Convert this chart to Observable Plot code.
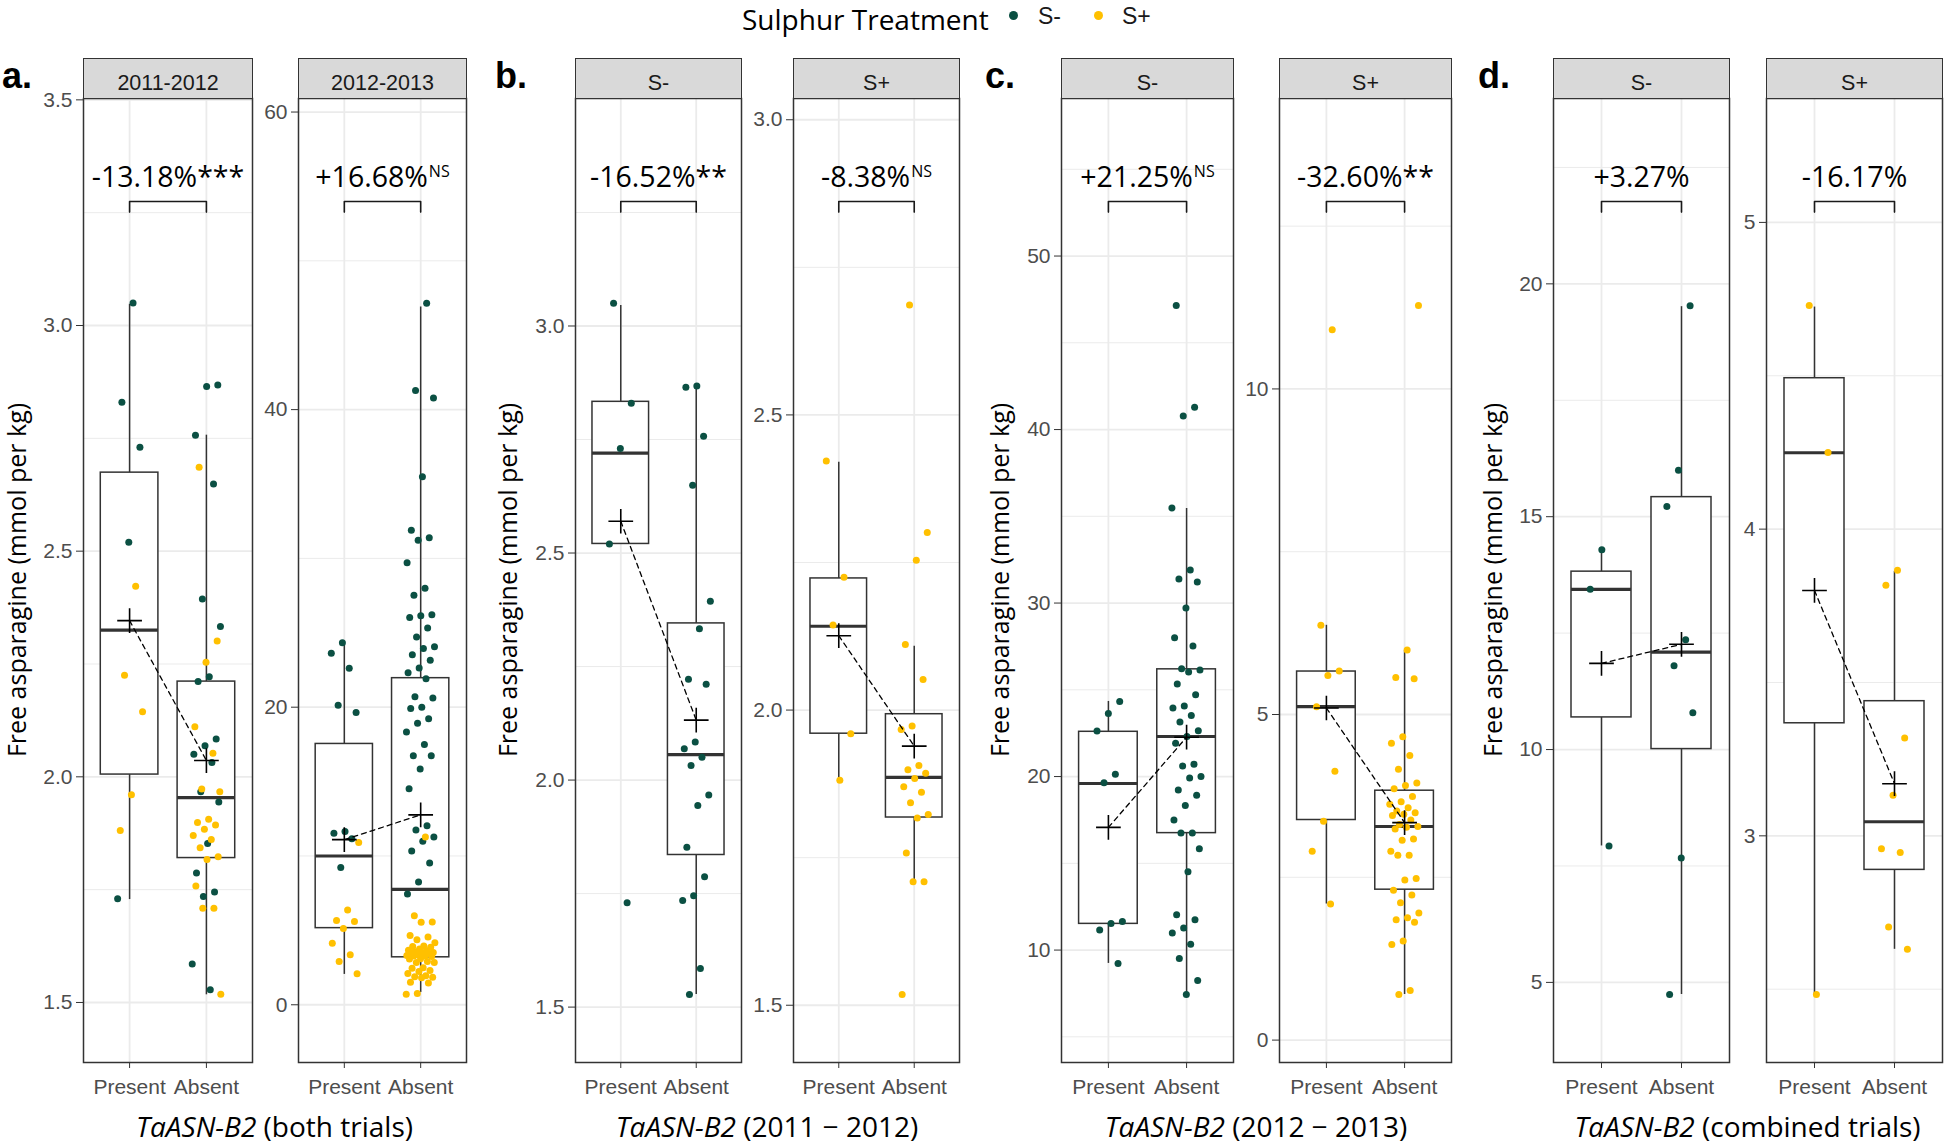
<!DOCTYPE html>
<html>
<head>
<meta charset="utf-8">
<script src="https://cdn.jsdelivr.net/npm/d3@7"></script>
<script src="https://cdn.jsdelivr.net/npm/@observablehq/plot@0.6"></script>
<style>
  html, body { margin: 0; padding: 0; background: #fff; }
  #root { position: relative; width: 1946px; height: 1145px; overflow: hidden; background: #fff; font-family: "Open Sans", sans-serif; }
  .strip { position: absolute; box-sizing: border-box; background: #D9D9D9; border: 1.5px solid #333; color: #1A1A1A;
           font: 21.5px "Liberation Sans", Arial, sans-serif; text-align: center; line-height: 28px; padding-top: 10px; }
</style>
</head>
<body>
<div id="root"></div>
<script>
// ---------------- DATA ----------------
const genotypes = ["Present", "Absent"];
const treatments = ["S-", "S+"];
const treatmentColors = ["#0B5043", "#FFC000"];

// Free asparagine (mmol per kg), 2011-2012 trial
const trial2011_Sminus_Present = [3.05, 2.83, 2.73, 2.52, 1.73];
const trial2011_Sminus_Absent = [2.868, 2.865, 2.757, 2.649, 2.394, 2.333, 2.222, 2.211, 2.084, 2.069, 2.050, 2.032, 1.967, 1.944, 1.852, 1.787, 1.745, 1.735, 1.585, 1.528];
const trial2011_Splus_Present = [2.422, 2.225, 2.144, 1.960, 1.881];
const trial2011_Splus_Absent = [2.686, 2.301, 2.254, 2.111, 2.052, 1.973, 1.967, 1.906, 1.899, 1.893, 1.884, 1.870, 1.861, 1.843, 1.823, 1.817, 1.758, 1.709, 1.709, 1.518];
// 2012-2013 trial
const trial2012_Sminus_Present = [24.33, 23.63, 22.62, 20.13, 19.64, 11.64, 11.53, 11.16, 9.23];
const trial2012_Sminus_Absent = [47.15, 41.28, 40.78, 35.48, 31.90, 31.39, 31.22, 29.71, 28.00, 27.52, 26.21, 26.14, 26.03, 25.33, 24.72, 24.06, 23.95, 23.52, 23.15, 22.64, 22.31, 21.92, 20.71, 20.61, 20.00, 19.91, 19.23, 18.92, 18.33, 17.50, 16.74, 16.74, 15.84, 14.52, 12.03, 11.75, 11.27, 10.99, 10.33, 9.52, 8.25, 7.44];
const trial2012_Splus_Present = [10.91, 6.37, 5.67, 5.60, 5.12, 4.13, 3.36, 2.90, 2.09];
const trial2012_Splus_Absent = [11.28, 5.99, 5.57, 5.55, 4.66, 4.56, 4.37, 4.16, 3.95, 3.91, 3.86, 3.74, 3.66, 3.62, 3.57, 3.52, 3.49, 3.47, 3.45, 3.38, 3.31, 3.28, 3.27, 3.24, 3.09, 3.07, 2.90, 2.84, 2.84, 2.48, 2.46, 2.30, 2.23, 2.11, 1.95, 1.88, 1.85, 1.81, 1.52, 1.47, 0.76, 0.70];
// combined trials
const combined_Sminus_Present = [14.29, 13.44, 7.93];
const combined_Sminus_Absent = [19.53, 16.00, 15.22, 12.36, 11.80, 10.79, 7.67, 4.74];
const combined_Splus_Present = [4.729, 4.25, 2.483];
const combined_Splus_Absent = [3.866, 3.817, 3.319, 3.132, 2.958, 2.946, 2.703, 2.630];

// Panels: a1 a2 b1 b2 c1 c2 d1 d2
const stripLabels = ["2011-2012", "2012-2013", "S-", "S+", "S-", "S+", "S-", "S+"];
const effectLabels = ["-13.18%", "+16.68%", "-16.52%", "-8.38%", "+21.25%", "-32.60%", "+3.27%", "-16.17%"];
const significance = ["***", "NS", "**", "NS", "NS", "**", "", ""];

// Boxplot statistics [Present, Absent] per panel
const whiskerLow = [[1.728, 1.517], [2.04, 0.82], [2.52, 1.528], [1.880, 1.709], [9.23, 7.44], [2.09, 0.70], [7.93, 4.74], [2.483, 2.630]];
const quartile1 = [[2.005, 1.820], [5.15, 3.19], [2.52, 1.835], [1.960, 1.818], [11.51, 16.74], [3.38, 2.31], [10.69, 10.01], [3.367, 2.889]];
const medians = [[2.325, 1.954], [10.0, 7.76], [2.72, 2.056], [2.142, 1.886], [19.60, 22.31], [5.12, 3.28], [13.44, 12.09], [4.249, 3.046]];
const quartile3 = [[2.674, 2.211], [17.53, 21.95], [2.833, 2.345], [2.223, 1.993], [22.58, 26.18], [5.66, 3.83], [13.82, 15.42], [4.492, 3.439]];
const whiskerHigh = [[3.047, 2.757], [24.2, 46.9], [3.045, 2.865], [2.42, 2.108], [24.33, 35.45], [6.37, 5.98], [14.29, 19.51], [4.724, 3.862]];
const means = [[2.346, 2.036], [11.10, 12.76], [2.57, 2.132], [2.126, 1.939], [17.07, 22.27], [5.10, 3.34], [11.85, 12.26], [3.80, 3.170]];

// Axis ticks
const yTicks = [[1.5, 2.0, 2.5, 3.0, 3.5], [0, 20, 40, 60], [1.5, 2.0, 2.5, 3.0], [1.5, 2.0, 2.5, 3.0], [10, 20, 30, 40, 50], [0, 5, 10], [5, 10, 15, 20], [3, 4, 5]];
const yDecimals = [1, 0, 1, 1, 0, 0, 0, 0];

// ---------------- LAYOUT ----------------
const yDomains = [[1.367, 3.503], [-3.88, 60.91], [1.378, 3.501], [1.403, 3.036], [3.52, 59.08], [-0.344, 14.46], [3.28, 23.98], [2.261, 5.404]];
const frameLeft = [83, 298, 575, 793, 1061, 1279, 1553, 1766];
const frameRight = [252, 466, 741, 959, 1233, 1451, 1729, 1942];
const frameTop = 98, frameBottom = 1062;

// series per panel: [genotypeIndex][list of [values, treatmentIndex]]
const panelSeries = [
  [[[trial2011_Sminus_Present, 0], [trial2011_Splus_Present, 1]], [[trial2011_Sminus_Absent, 0], [trial2011_Splus_Absent, 1]]],
  [[[trial2012_Sminus_Present, 0], [trial2012_Splus_Present, 1]], [[trial2012_Sminus_Absent, 0], [trial2012_Splus_Absent, 1]]],
  [[[trial2011_Sminus_Present, 0]], [[trial2011_Sminus_Absent, 0]]],
  [[[trial2011_Splus_Present, 1]], [[trial2011_Splus_Absent, 1]]],
  [[[trial2012_Sminus_Present, 0]], [[trial2012_Sminus_Absent, 0]]],
  [[[trial2012_Splus_Present, 1]], [[trial2012_Splus_Absent, 1]]],
  [[[combined_Sminus_Present, 0]], [[combined_Sminus_Absent, 0]]],
  [[[combined_Splus_Present, 1]], [[combined_Splus_Absent, 1]]]
];

const root = document.getElementById("root");
function addDiv(html, css, cls) {
  const d = document.createElement("div");
  d.innerHTML = html;
  d.style.cssText = "position:absolute;" + css;
  if (cls) d.className = cls;
  root.appendChild(d);
  return d;
}

// deterministic jitter offset (position only)
function jitter(k, seed) {
  const u = ((k + 1) * 0.6180339887 + seed * 0.2718281828) % 1;
  return (u - 0.5) * 0.38;
}

const ML = 62, MR = 2, MT = 2, MB = 50;

for (let i = 0; i < 8; i++) {
  const W = frameRight[i] - frameLeft[i];
  const H = frameBottom - frameTop;
  const dom = yDomains[i];
  const pts = [];
  panelSeries[i].forEach((groups, g) => {
    let k = 0;
    groups.forEach(([vals, t]) => {
      vals.forEach(v => { pts.push({pos: g + 1, value: v, t, jit: jitter(k, i * 3 + g)}); k++; });
    });
  });
  const boxes = genotypes.map((name, g) => ({
    pos: g + 1, lo: whiskerLow[i][g], q1: quartile1[i][g], med: medians[i][g],
    q3: quartile3[i][g], hi: whiskerHigh[i][g], mean: means[i][g]
  }));
  const major = yTicks[i];
  const step = major[1] - major[0];
  const minor = [];
  for (let v = major[0] - step / 2; v <= dom[1]; v += step) if (v >= dom[0]) minor.push(v);
  const yAt = f => dom[1] - f * (dom[1] - dom[0]);
  const bracketY = yAt(103 / H), bracketTickY = yAt(113.6 / H), textY = yAt(88 / H);
  const bracket = [{x: 1, y: bracketTickY}, {x: 1, y: bracketY}, {x: 2, y: bracketY}, {x: 2, y: bracketTickY}];
  const label = effectLabels[i] + (significance[i] === "NS" ? "" : significance[i]);
  const fmt = d3.format("." + yDecimals[i] + "f");

  const svg = Plot.plot({
    width: W + ML + MR, height: H + MT + MB,
    marginLeft: ML, marginRight: MR, marginTop: MT, marginBottom: MB,
    x: {type: "linear", domain: [0.4, 2.6], label: null},
    y: {type: "linear", domain: dom, label: null},
    style: {background: "none", overflow: "visible", fontFamily: "'Liberation Sans', Arial, sans-serif", fontSize: "21px"},
    marks: [
      Plot.gridY({ticks: minor, stroke: "#EBEBEB", strokeOpacity: 1, strokeWidth: 1}),
      Plot.gridY({ticks: major, stroke: "#EBEBEB", strokeOpacity: 1, strokeWidth: 1.8}),
      Plot.gridX({ticks: [1, 2], stroke: "#EBEBEB", strokeOpacity: 1, strokeWidth: 1.8}),
      Plot.ruleX(boxes, {x: "pos", y1: "lo", y2: "q1", stroke: "#333", strokeWidth: 1.5}),
      Plot.ruleX(boxes, {x: "pos", y1: "q3", y2: "hi", stroke: "#333", strokeWidth: 1.5}),
      Plot.rect(boxes, {x1: d => d.pos - 0.375, x2: d => d.pos + 0.375, y1: "q1", y2: "q3", fill: "white", stroke: "#333", strokeWidth: 1.5}),
      Plot.ruleY(boxes, {y: "med", x1: d => d.pos - 0.375, x2: d => d.pos + 0.375, stroke: "#333", strokeWidth: 3.2}),
      Plot.dot(pts, {x: d => d.pos + d.jit, y: "value", fill: d => treatmentColors[d.t], r: 3.5, stroke: "none"}),
      Plot.line(boxes, {x: "pos", y: "mean", stroke: "black", strokeWidth: 1.3, strokeDasharray: "5,4"}),
      Plot.dot(boxes, {x: "pos", y: "mean", symbol: "plus", r: 8, fill: "none", stroke: "black", strokeWidth: 1.6}),
      Plot.line(bracket, {x: "x", y: "y", stroke: "#1A1A1A", strokeWidth: 1.6}),
      Plot.text([label], {x: 1.5, y: textY, text: d => d, lineAnchor: "bottom", textAnchor: "middle",
        fontFamily: "'Open Sans', sans-serif", fontSize: 28.5, fill: "black"}),
      Plot.frame({stroke: "#333", strokeWidth: 1.5}),
      Plot.axisY({ticks: major, tickFormat: fmt, tickSize: 7, tickPadding: 4, fill: "#4D4D4D", stroke: "#333", label: null}),
      Plot.axisX({ticks: [1, 2], tickFormat: d => genotypes[d - 1], tickSize: 6, tickPadding: 11, fill: "#4D4D4D", stroke: "#333", label: null})
    ]
  });

  if (significance[i] === "NS") {
    svg.querySelectorAll("text").forEach(t => {
      if (t.textContent === label) {
        const ts = document.createElementNS("http://www.w3.org/2000/svg", "tspan");
        ts.setAttribute("dy", "-10");
        ts.setAttribute("dx", "1");
        ts.setAttribute("font-size", "16");
        ts.textContent = "NS";
        t.appendChild(ts);
      }
    });
  }

  const wrap = document.createElement("div");
  wrap.style.cssText = `position:absolute;left:${frameLeft[i] - ML}px;top:${frameTop - MT}px;`;
  wrap.appendChild(svg);
  root.appendChild(wrap);

  addDiv(stripLabels[i], `left:${frameLeft[i]}px;top:58px;width:${W + 1}px;height:41px;`, "strip");
}

// Panel letters
const letters = ["a.", "b.", "c.", "d."];
const letterX = [2, 495, 985, 1478];
letters.forEach((l, j) => addDiv(l, `left:${letterX[j]}px;top:58px;font:bold 36px 'Liberation Sans', Arial, sans-serif;line-height:36px;color:#000;`));

// Y-axis titles
const yTitleX = [17, 508, 1000, 1493];
yTitleX.forEach(cx => addDiv("Free asparagine (mmol per kg)",
  `left:${cx - 300}px;top:${580 - 18}px;width:600px;height:36px;line-height:36px;text-align:center;font:25px 'Open Sans', sans-serif;color:#000;transform:rotate(-90deg);white-space:nowrap;`));

// X-axis titles
const xTitleSuffix = ["(both trials)", "(2011 \u2212 2012)", "(2012 \u2212 2013)", "(combined trials)"];
[[0, 1], [2, 3], [4, 5], [6, 7]].forEach(([p, q], j) => {
  const cx = (frameLeft[p] + frameRight[q]) / 2;
  addDiv(`<i>TaASN-B2</i> ${xTitleSuffix[j]}`,
    `left:${cx - 300}px;top:1107px;width:600px;line-height:40px;text-align:center;font:28px 'Open Sans', sans-serif;color:#000;white-space:nowrap;`);
});

// Legend
addDiv("Sulphur Treatment", `left:742px;top:0px;line-height:32px;font:28px 'Open Sans', sans-serif;color:#000;white-space:nowrap;`);
const legendDotX = [1013, 1098], legendTextX = [1038, 1122];
treatments.forEach((t, j) => {
  addDiv("", `left:${legendDotX[j] - 4.5}px;top:11px;width:9px;height:9px;border-radius:50%;background:${treatmentColors[j]};`);
  addDiv(t, `left:${legendTextX[j]}px;top:3px;line-height:28px;font:23px 'Liberation Sans', Arial, sans-serif;color:#1A1A1A;`);
});
</script>
</body>
</html>
